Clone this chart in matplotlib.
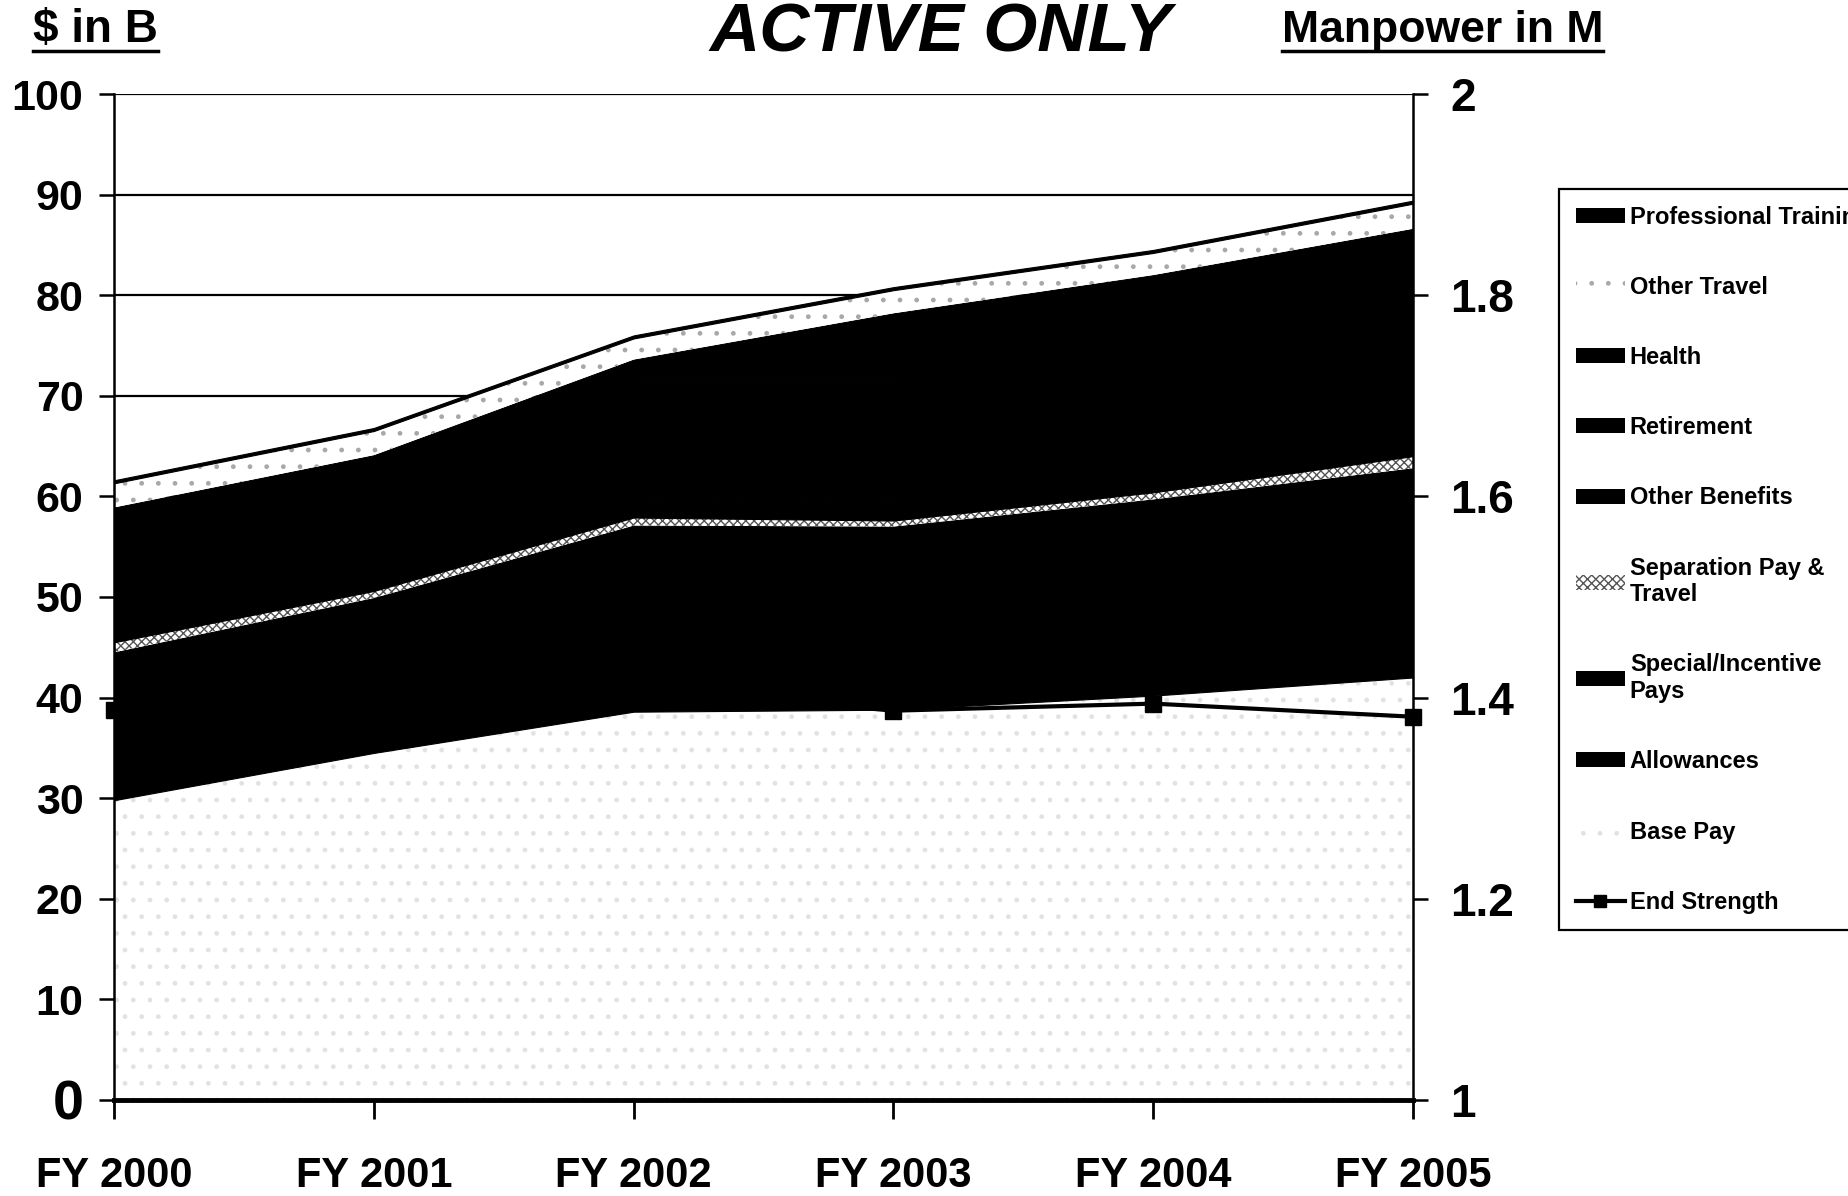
import numpy as np
import matplotlib
matplotlib.use("Agg")
import matplotlib.pyplot as plt
from matplotlib.patches import Patch
from matplotlib.lines import Line2D

plt.rcParams['font.family'] = ['Liberation Sans', 'DejaVu Sans']
plt.rcParams['hatch.linewidth'] = 1.0

years = ["FY 2000", "FY 2001", "FY 2002", "FY 2003", "FY 2004", "FY 2005"]

# $ in billions, stacked from the bottom up
base_pay = [29.8, 34.5, 38.6, 38.8, 40.2, 42.0]
allowances = [10.2, 10.7, 12.6, 12.4, 13.3, 14.2]
special_incentive = [4.5, 4.7, 5.9, 5.8, 6.2, 6.6]
separation_travel = [1.0, 0.7, 0.8, 0.6, 0.7, 1.2]
other_benefits = [1.9, 1.9, 2.0, 2.0, 2.1, 2.2]
retirement = [10.0, 10.0, 11.5, 11.8, 12.2, 12.6]
health = [1.5, 1.6, 2.2, 6.8, 7.3, 7.8]
other_travel = [2.4, 2.4, 2.1, 2.3, 2.2, 2.5]
professional_training = [0.3, 0.3, 0.3, 0.3, 0.3, 0.3]

# manpower in millions
end_strength = [1.388, 1.385, 1.41, 1.387, 1.394, 1.381]

solid = dict(facecolor="black", edgecolor="black", linewidth=0.8)
series = [
    ("Base Pay", base_pay, dict(facecolor="white", hatch=".", edgecolor="#e2e2e2", linewidth=0)),
    ("Allowances", allowances, solid),
    ("Special/Incentive\nPays", special_incentive, solid),
    ("Separation Pay &\nTravel", separation_travel, dict(facecolor="white", hatch="xxxx", edgecolor="#555555", linewidth=0)),
    ("Other Benefits", other_benefits, solid),
    ("Retirement", retirement, solid),
    ("Health", health, solid),
    ("Other Travel", other_travel, dict(facecolor="white", hatch=".", edgecolor="#a8a8a8", linewidth=0)),
    ("Professional Training", professional_training, solid),
]

W, H = 1849, 1196
fig = plt.figure(figsize=(W / 100, H / 100), dpi=100)
ax = fig.add_axes([114 / W, 1 - 1100 / H, (1413 - 114) / W, (1100 - 94) / H])

x = np.arange(len(years))
bottom = np.zeros(len(years))
handles = []
for label, vals, style in series:
    top = bottom + np.array(vals)
    ax.fill_between(x, bottom, top, zorder=2, **style)
    bottom = top
    handles.append(Patch(label=label, **{k: v for k, v in style.items() if k != "linewidth"}, linewidth=0))

ax.set_xlim(0, 5)
ax.set_ylim(0, 100)
ax.set_yticks(np.arange(0, 101, 10))
ax.set_xticks(x)
ax.set_xticklabels(years)
ax.yaxis.grid(True, color="black", linewidth=1.6, zorder=0)
ax.set_axisbelow(True)

ax.spines["top"].set_visible(False)
ax.spines["right"].set_visible(False)
ax.spines["left"].set_linewidth(1.8)
ax.spines["bottom"].set_linewidth(3.5)

ax.tick_params(axis="y", direction="out", length=11, width=1.8, pad=11)
ax.tick_params(axis="x", direction="out", length=14, width=2, pad=26)
for lab in ax.get_yticklabels():
    lab.set_fontweight("bold")
    lab.set_fontsize(31)
ax.get_yticklabels()[0].set_fontsize(40)
for lab in ax.get_xticklabels():
    lab.set_fontweight("bold")
    lab.set_fontsize(30)

# secondary axis: end strength
ax2 = ax.twinx()
ax2.set_ylim(1.0, 2.0)
ax2.set_yticks([1.0, 1.2, 1.4, 1.6, 1.8, 2.0])
ax2.set_yticklabels(["1", "1.2", "1.4", "1.6", "1.8", "2"])
ax2.plot(x, end_strength, color="black", linewidth=3, marker="s", markersize=11, zorder=5, clip_on=False)
for side in ("top", "left", "bottom"):
    ax2.spines[side].set_visible(False)
ax2.spines["right"].set_linewidth(1.8)
ax2.tick_params(axis="y", direction="out", length=11, width=1.8, pad=16)
for lab in ax2.get_yticklabels():
    lab.set_fontweight("bold")
    lab.set_fontsize(33)

# legend (top of stack first)
leg_handles = handles[::-1] + [Line2D([0], [0], color="black", linewidth=3, marker="s", markersize=9, label="End Strength")]
leg = fig.legend(handles=leg_handles, loc="upper left",
                 bbox_to_anchor=(1559 / W, 1 - 189 / H), bbox_transform=fig.transFigure,
                 frameon=True, fancybox=False, edgecolor="black", framealpha=1,
                 prop=dict(size=17, weight="bold"), labelspacing=2.0,
                 handlelength=2.1, handleheight=0.6, handletextpad=0.2,
                 borderpad=0.7, borderaxespad=0)
leg.get_frame().set_linewidth(1.6)

# headings
fig.text(941 / W, 1 - 52 / H, "ACTIVE ONLY", ha="center", va="baseline",
         fontsize=50, fontweight="bold", fontstyle="italic")
t1 = fig.text(33 / W, 1 - 42 / H, r"\$ in B", ha="left", va="baseline", fontsize=33, fontweight="bold")
t2 = fig.text(1282 / W, 1 - 42 / H, "Manpower in M", ha="left", va="baseline", fontsize=32, fontweight="bold")

fig.canvas.draw()
r = fig.canvas.get_renderer()
for t in (t1, t2):
    bb = t.get_window_extent(r)
    y = 1 - 51 / H
    fig.add_artist(Line2D([bb.x0 / W, bb.x1 / W], [y, y], color="black", linewidth=2.5,
                          transform=fig.transFigure))

fig.savefig("out.png", dpi=100)
